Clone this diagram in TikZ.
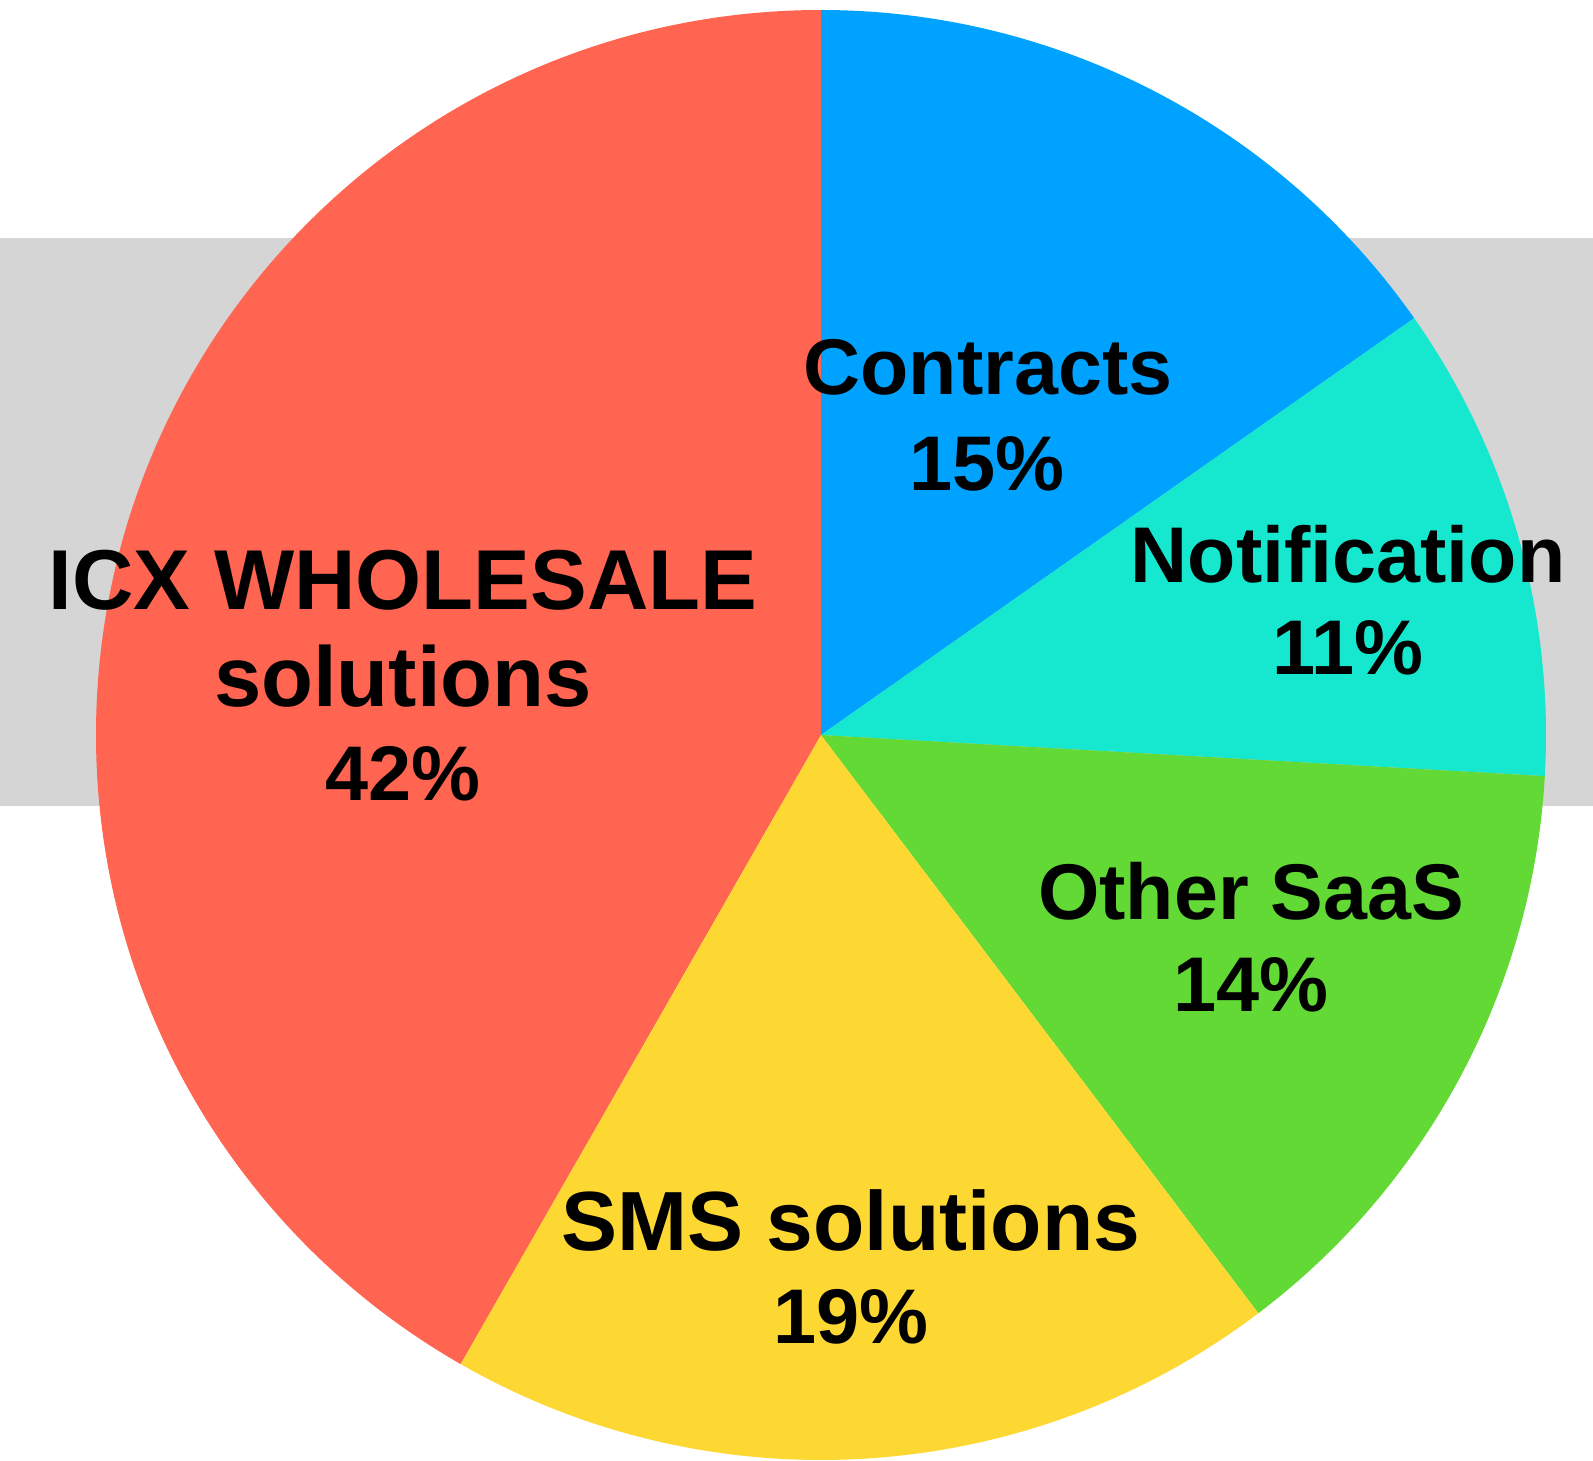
\documentclass[tikz,border=0pt]{standalone}
\usepackage{fontspec}
\setmainfont{Liberation Sans}
\definecolor{cICX}{RGB}{255,101,80}
\definecolor{cCon}{RGB}{0,162,255}
\definecolor{cNot}{RGB}{22,231,207}
\definecolor{cOth}{RGB}{99,217,53}
\definecolor{cSMS}{RGB}{253,216,51}
\definecolor{cBand}{RGB}{213,213,213}
\tikzset{
  lbl/.style={anchor=base, inner sep=0pt, text=black, font=\bfseries\fontsize{79}{79}\selectfont},
  lblpct/.style={lbl, font=\bfseries\fontsize{77.5}{77.5}\selectfont},
  lblbig/.style={lbl, font=\bfseries\fontsize{85}{85}\selectfont},
  lblmid/.style={lbl, font=\bfseries\fontsize{84}{84}\selectfont}
}
\begin{document}
\begin{tikzpicture}[x=1pt,y=1pt]
\useasboundingbox (0,0) rectangle (1593,-1461);
\fill[cBand] (0,-238) rectangle (1593,-806);
\coordinate (c) at (821,-735);
\def\R{725}
\fill[cICX] (c) -- ++(90:\R) arc[start angle=90, end angle=240.2, radius=\R] -- cycle;
\fill[cCon] (c) -- ++(90:\R) arc[start angle=90, end angle=35.1, radius=\R] -- cycle;
\fill[cNot] (c) -- ++(35.1:\R) arc[start angle=35.1, end angle=-3.25, radius=\R] -- cycle;
\fill[cOth] (c) -- ++(-3.25:\R) arc[start angle=-3.25, end angle=-52.9, radius=\R] -- cycle;
\fill[cSMS] (c) -- ++(-52.9:\R) arc[start angle=-52.9, end angle=-119.8, radius=\R] -- cycle;
% labels
\node[lbl] (conA) at (988,-394) {Contracts};
\node[lblpct] (conB) at (987,-490) {15\%};
\node[lbl] (notA) at (1348,-582) {Notification};
\node[lblpct] (notB) at (1348,-674) {11\%};
\node[lbl] (othA) at (1251,-919) {Other SaaS};
\node[lblpct] (othB) at (1251,-1011) {14\%};
\node[lblmid] (smsA) at (851,-1250) {SMS solutions};
\node[lblpct] (smsB) at (851,-1343) {19\%};
\node[lblbig] (icxA) at (403,-609) {ICX WHOLESALE};
\node[lblbig] (icxB) at (403,-706) {solutions};
\node[lblpct] (icxC) at (403,-800) {42\%};
\end{tikzpicture}
\end{document}
